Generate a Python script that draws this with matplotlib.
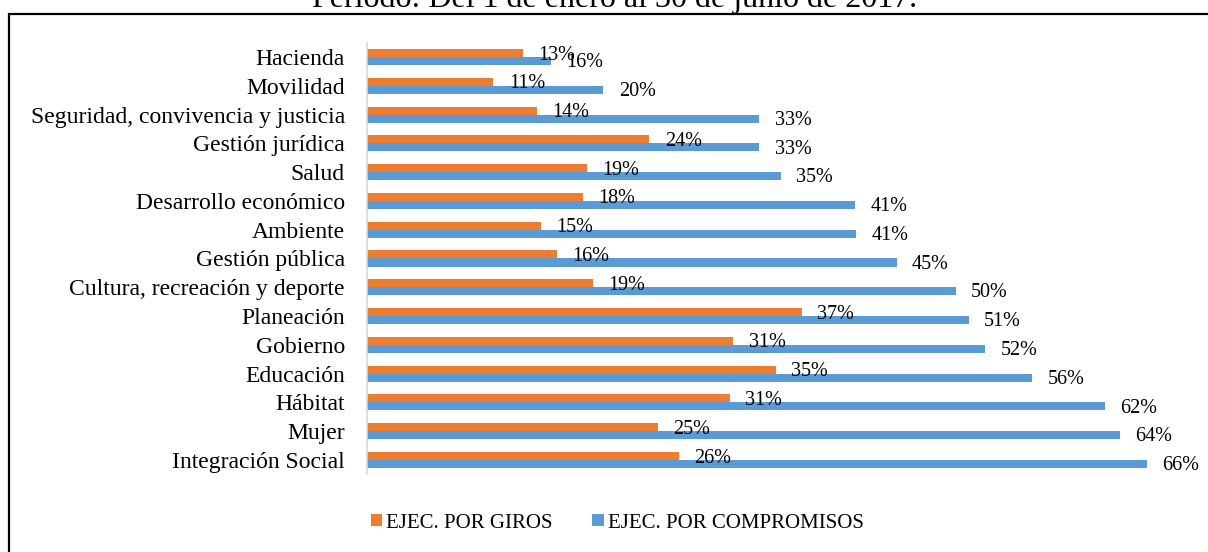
import matplotlib
matplotlib.use("Agg")
import matplotlib.pyplot as plt
from matplotlib.patches import Rectangle
import numpy as np

plt.rcParams['font.family'] = ['Liberation Serif', 'DejaVu Serif']

# sectores, de arriba hacia abajo
sectores = [
    "Hacienda", "Movilidad", "Seguridad, convivencia y justicia",
    "Gestión jurídica", "Salud", "Desarrollo económico", "Ambiente",
    "Gestión pública", "Cultura, recreación y deporte", "Planeación",
    "Gobierno", "Educación", "Hábitat", "Mujer", "Integración Social",
]
giros = [13.2, 10.7, 14.4, 23.9, 18.6, 18.3, 14.7, 16.1, 19.1, 36.8,
         31.0, 34.6, 30.7, 24.6, 26.4]
compromisos = [15.6, 20.0, 33.2, 33.2, 35.0, 41.3, 41.4, 44.8, 49.8, 50.9,
               52.3, 56.3, 62.4, 63.7, 66.0]

titulo = "Periodo: Del 1 de enero al 30 de junio de 2017."
naranja = "#ED7D31"
azul = "#5B9BD5"

W, H = 1208, 552
fig = plt.figure(figsize=(W / 100, H / 100), dpi=100)

# marco del area del grafico (se corta a la derecha y abajo)
fig.patches.append(Rectangle((9 / W, -0.1), 1.2, 1 - 13.5 / H + 0.1,
                             transform=fig.transFigure, fill=False,
                             edgecolor="black", linewidth=1.6))
fig.text(615 / W, 1 - 6.5 / H, titulo, ha="center", va="baseline", fontsize=23)

ax = fig.add_axes([367 / W, 1 - 474.4 / H, (1200 - 367) / W, 431.8 / H])
y = np.arange(len(sectores))
h = 0.28
b1 = ax.barh(y - h / 2, giros, height=h, color=naranja, label="EJEC. POR GIROS")
b2 = ax.barh(y + h / 2, compromisos, height=h, color=azul, label="EJEC. POR COMPROMISOS")

ax.set_xlim(0, (1200 - 367) / 11.82)
ax.set_ylim(len(sectores) - 0.5, -0.5)
ax.set_yticks(y)
ax.set_yticklabels(sectores, fontsize=17)
ax.tick_params(axis="y", length=0, pad=16)
ax.set_xticks([])
for s in ["top", "right", "bottom"]:
    ax.spines[s].set_visible(False)
ax.spines["left"].set_color("#d9d9d9")
ax.spines["left"].set_linewidth(1.2)

for yi, v in zip(y, giros):
    ax.annotate(f"{v:.0f}%", (v, yi - h / 2), xytext=(11, -1.5),
                textcoords="offset points", ha="left", va="center", fontsize=14.5)
for yi, v in zip(y, compromisos):
    ax.annotate(f"{v:.0f}%", (v, yi + h / 2), xytext=(11, -1.2),
                textcoords="offset points", ha="left", va="center", fontsize=14.5)

fig.legend(handles=[b1, b2], loc="center left", bbox_to_anchor=(352 / W, 1 - 523 / H),
           ncol=2, frameon=False, fontsize=15, handlelength=0.55, handleheight=0.55,
           handletextpad=0.2, columnspacing=1.9)

fig.savefig("out.png", dpi=100)
